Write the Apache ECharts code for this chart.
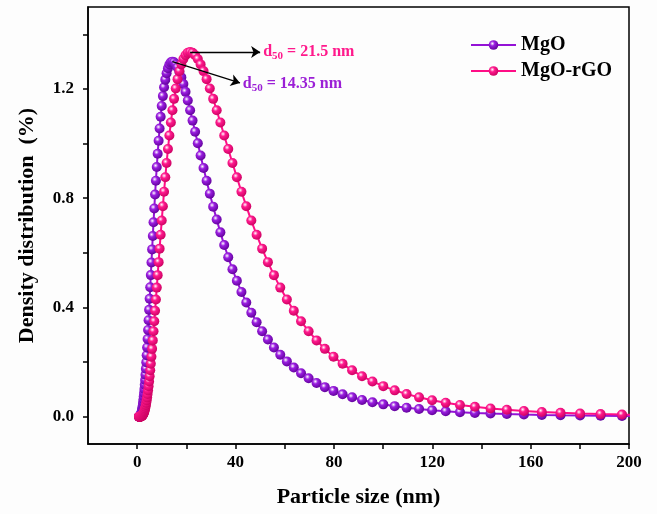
<!DOCTYPE html>
<html>
<head>
<meta charset="utf-8">
<script src="https://cdn.jsdelivr.net/npm/echarts@6/dist/echarts.min.js"></script>
<style>
  html, body { margin: 0; padding: 0; background: #fdfdfd; }
  #chart { width: 657px; height: 514px; }
</style>
</head>
<body>
<div id="chart"></div>
<script>
// Particle size grid (nm), log-spaced
const sizeNm = [
  0.7256, 0.7591, 0.7942, 0.8309, 0.8694, 0.9096, 0.9516, 0.9956, 1.0417, 1.0898,
  1.1402, 1.1929, 1.2481, 1.3058, 1.3662, 1.4293, 1.4954, 1.5646, 1.6369, 1.7126,
  1.7918, 1.8746, 1.9613, 2.0520, 2.1468, 2.2461, 2.3500, 2.4586, 2.5723, 2.6912,
  2.8157, 2.9459, 3.0821, 3.2246, 3.3737, 3.5297, 3.6929, 3.8636, 4.0423, 4.2292,
  4.4247, 4.6293, 4.8434, 5.0673, 5.3016, 5.5467, 5.8032, 6.0715, 6.3523, 6.6459,
  6.9532, 7.2747, 7.6111, 7.9630, 8.3311, 8.7163, 9.1193, 9.5410, 9.9822, 10.444,
  10.927, 11.432, 11.960, 12.513, 13.092, 13.697, 14.331, 14.993, 15.687, 16.412,
  17.170, 17.964, 18.795, 19.664, 20.573, 21.525, 22.520, 23.561, 24.651, 25.790,
  26.983, 28.230, 29.535, 30.901, 32.330, 33.825, 35.389, 37.025, 38.737, 40.529,
  42.402, 44.362, 46.414, 48.560, 50.805, 53.154, 55.612, 58.183, 60.873, 63.688,
  66.632, 69.713, 72.937, 76.309, 79.837, 83.529, 87.391, 91.432, 95.659, 100.08,
  104.71, 109.55, 114.62, 119.92, 125.46, 131.26, 137.33, 143.68, 150.32, 157.27,
  164.55, 172.15, 180.11, 188.44, 197.15, 206.27
];

// Density distribution (%) of MgO
const mgo = [
  0.0001, 0.0002, 0.0003, 0.0003, 0.0004, 0.0006, 0.0007, 0.0009, 0.0012, 0.0015,
  0.0019, 0.0024, 0.0030, 0.0037, 0.0046, 0.0057, 0.0071, 0.0087, 0.0107, 0.0130,
  0.0158, 0.0191, 0.0230, 0.0275, 0.0329, 0.0391, 0.0463, 0.0546, 0.0641, 0.0749,
  0.0872, 0.1011, 0.1168, 0.1343, 0.1538, 0.1753, 0.1991, 0.2252, 0.2536, 0.2844,
  0.3176, 0.3533, 0.3912, 0.4315, 0.4740, 0.5184, 0.5647, 0.6125, 0.6616, 0.7117,
  0.7624, 0.8133, 0.8640, 0.9140, 0.9629, 1.0102, 1.0554, 1.0980, 1.1376, 1.1738,
  1.2060, 1.2340, 1.2573, 1.2758, 1.2892, 1.2973, 1.3000, 1.2976, 1.2906, 1.2789,
  1.2628, 1.2423, 1.2177, 1.1893, 1.1574, 1.1222, 1.0841, 1.0435, 1.0009, 0.9564,
  0.9107, 0.8640, 0.8166, 0.7691, 0.7218, 0.6749, 0.6287, 0.5836, 0.5398, 0.4974,
  0.4567, 0.4178, 0.3808, 0.3459, 0.3130, 0.2823, 0.2536, 0.2270, 0.2024, 0.1799,
  0.1593, 0.1406, 0.1236, 0.1082, 0.0944, 0.0821, 0.0711, 0.0614, 0.0528, 0.0452,
  0.0386, 0.0329, 0.0279, 0.0235, 0.0198, 0.0166, 0.0139, 0.0115, 0.0096, 0.0079,
  0.0065, 0.0053, 0.0044, 0.0036, 0.0029, 0.0023
];

// Density distribution (%) of MgO-rGO
const mgoRgo = [
  0, 0, 0, 0, 0, 0, 0, 0.0001, 0.0001, 0.0001,
  0.0002, 0.0002, 0.0003, 0.0004, 0.0005, 0.0006, 0.0008, 0.0010, 0.0013, 0.0016,
  0.0020, 0.0026, 0.0032, 0.0040, 0.0050, 0.0062, 0.0077, 0.0095, 0.0117, 0.0142,
  0.0173, 0.0210, 0.0253, 0.0303, 0.0362, 0.0431, 0.0511, 0.0603, 0.0708, 0.0828,
  0.0964, 0.1118, 0.1290, 0.1483, 0.1698, 0.1936, 0.2197, 0.2483, 0.2793, 0.3130,
  0.3492, 0.3879, 0.4291, 0.4726, 0.5183, 0.5659, 0.6153, 0.6662, 0.7181, 0.7708,
  0.8238, 0.8767, 0.9290, 0.9802, 1.0297, 1.0772, 1.1220, 1.1637, 1.2018, 1.2358,
  1.2653, 1.2899, 1.3095, 1.3236, 1.3321, 1.3350, 1.3321, 1.3236, 1.3095, 1.2899,
  1.2653, 1.2358, 1.2018, 1.1637, 1.1220, 1.0772, 1.0297, 0.9802, 0.9290, 0.8767,
  0.8238, 0.7708, 0.7181, 0.6662, 0.6153, 0.5659, 0.5183, 0.4726, 0.4291, 0.3879,
  0.3492, 0.3130, 0.2793, 0.2483, 0.2197, 0.1936, 0.1698, 0.1483, 0.1290, 0.1118,
  0.0964, 0.0828, 0.0708, 0.0603, 0.0511, 0.0431, 0.0362, 0.0303, 0.0253, 0.0210,
  0.0173, 0.0142, 0.0117, 0.0095, 0.0077, 0.0062
];

// d50 annotations: [size, density] of the peak and where the arrow ends
const d50MgO = { value: '14.35', from: [14.331, 1.300], to: [41.8, 1.222] };
const d50MgORgo = { value: '21.5', from: [21.525, 1.335], to: [50.0, 1.335] };

// Axis ticks and labels
const xTicks = [0, 20, 40, 60, 80, 100, 120, 140, 160, 180, 200];
const xLabels = [0, 40, 80, 120, 160, 200];
const yTicks = [0, 0.2, 0.4, 0.6, 0.8, 1.0, 1.2, 1.4];
const yLabels = [0, 0.4, 0.8, 1.2];

const FONT = '"Liberation Serif", "Times New Roman", serif';
const PURPLE = '#9412d6';
const PINK = '#ff0d86';

function bead(base, dark) {
  return {
    type: 'radial', x: 0.38, y: 0.35, r: 0.7,
    colorStops: [
      { offset: 0, color: '#ffffff' },
      { offset: 0.35, color: base },
      { offset: 1, color: dark }
    ]
  };
}

function d50Line(ann, color) {
  return {
    silent: true,
    animation: false,
    symbol: ['none', 'arrow'],
    symbolSize: 9,
    lineStyle: { color: '#000', width: 1.3, type: 'solid' },
    label: {
      show: true,
      position: 'end',
      distance: 3,
      formatter: '{d|d}{s|50}{d| = ' + ann.value + ' nm}',
      rich: {
        d: { fontFamily: FONT, fontWeight: 'bold', fontSize: 16, color: color, lineHeight: 20, verticalAlign: 'middle' },
        s: { fontFamily: FONT, fontWeight: 'bold', fontSize: 11, color: color, lineHeight: 20, verticalAlign: 'bottom' }
      }
    },
    data: [[{ coord: ann.from }, { coord: ann.to }]]
  };
}

const axisCommon = {
  type: 'value',
  axisLine: { show: true, onZero: false, lineStyle: { color: '#000', width: 1.5 } },
  splitLine: { show: false },
  nameLocation: 'middle',
  nameTextStyle: { fontFamily: FONT, fontWeight: 'bold', fontSize: 22, color: '#000' }
};

const chart = echarts.init(document.getElementById('chart'), null, { renderer: 'canvas' });
chart.setOption({
  animation: false,
  backgroundColor: '#fdfdfd',
  grid: { left: 88, right: 28, top: 7, bottom: 70, show: true, borderColor: '#000', borderWidth: 1.5 },
  legend: {
    orient: 'vertical',
    left: 465,
    top: 30,
    itemWidth: 45,
    itemHeight: 12,
    itemGap: 6,
    textStyle: { fontFamily: FONT, fontWeight: 'bold', fontSize: 20, color: '#000' },
    data: ['MgO', 'MgO-rGO']
  },
  xAxis: Object.assign({}, axisCommon, {
    min: -20, max: 200,
    name: 'Particle size (nm)',
    nameGap: 42,
    axisTick: { show: true, customValues: xTicks, length: 5, lineStyle: { color: '#000', width: 1.5 } },
    axisLabel: {
      customValues: xLabels, margin: 10,
      fontFamily: FONT, fontWeight: 'bold', fontSize: 17, color: '#000'
    }
  }),
  yAxis: Object.assign({}, axisCommon, {
    min: -0.1, max: 1.5,
    name: 'Density distribution  (%)',
    nameGap: 50,
    axisTick: { show: true, customValues: yTicks, length: 5, lineStyle: { color: '#000', width: 1.5 } },
    axisLabel: {
      customValues: yLabels, margin: 14,
      formatter: v => v.toFixed(1),
      fontFamily: FONT, fontWeight: 'bold', fontSize: 17, color: '#000'
    }
  }),
  series: [
    {
      name: 'MgO',
      type: 'line',
      data: sizeNm.map((x, i) => [x, mgo[i]]),
      symbol: 'circle',
      symbolSize: 10,
      lineStyle: { color: PURPLE, width: 2 },
      itemStyle: { color: bead('#9a1ee0', '#5e0096') },
      markLine: d50Line(d50MgO, '#9b1fd6')
    },
    {
      name: 'MgO-rGO',
      type: 'line',
      data: sizeNm.map((x, i) => [x, mgoRgo[i]]),
      symbol: 'circle',
      symbolSize: 10,
      lineStyle: { color: PINK, width: 2 },
      itemStyle: { color: bead('#ff1a8e', '#c8005e') },
      markLine: d50Line(d50MgORgo, '#ff1a8c')
    }
  ]
});
</script>
</body>
</html>
